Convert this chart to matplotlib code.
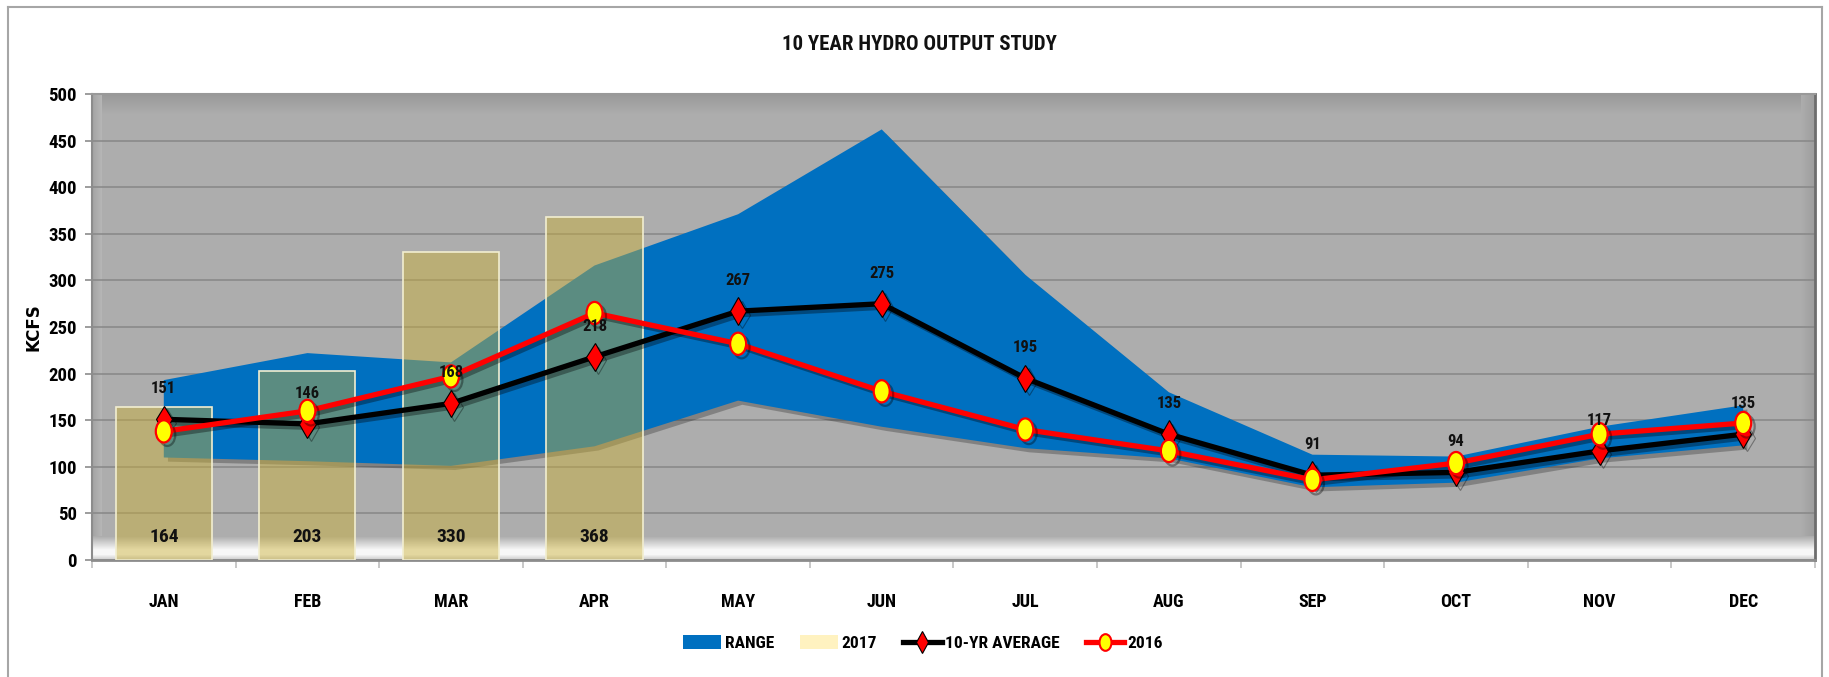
import numpy as np
import matplotlib
matplotlib.use("Agg")
import matplotlib.pyplot as plt
from matplotlib.patches import Patch
from matplotlib.lines import Line2D
from matplotlib.path import Path
from matplotlib.transforms import Affine2D
import matplotlib.patheffects as pe
from matplotlib import font_manager as fm

# ---------------- data ----------------
months = ['JAN', 'FEB', 'MAR', 'APR', 'MAY', 'JUN', 'JUL', 'AUG', 'SEP', 'OCT', 'NOV', 'DEC']
bars_2017 = [164, 203, 330, 368]
avg_10yr = [151, 146, 168, 218, 267, 275, 195, 135, 91, 94, 117, 135]
y2016 = [138, 160, 197, 265, 232, 181, 140, 117, 86, 104, 135, 147]
range_low = [110, 106, 101, 122, 171, 143, 120, 109, 78, 83, 109, 123]
range_high = [193, 222, 212, 316, 371, 462, 306, 180, 113, 111, 143, 166]
yticks = [0, 50, 100, 150, 200, 250, 300, 350, 400, 450, 500]

names = {f.name for f in fm.fontManager.ttflist}
cond = [n for n in ['Liberation Sans Narrow', 'DejaVu Sans Condensed', 'Roboto Condensed',
                    'Open Sans Condensed'] if n in names]
FONT = cond[:1] + ['DejaVu Sans']
plt.rcParams['font.family'] = FONT
plt.rcParams['font.stretch'] = 'condensed'

W, H = 1829, 677
fig = plt.figure(figsize=(W / 100, H / 100), dpi=100)
fig.patch.set_facecolor('white')

L, R, T, B = 92, 1815, 94, 560
ax = fig.add_axes([L / W, (H - B) / H, (R - L) / W, (B - T) / H])

# ---- beveled gray background ----
ph, pw = B - T, R - L
img = np.full((ph, pw, 3), 0.68)
for i in range(20):
    img[i, :, :] = 0.60 + 0.08 * (i / 20)
for j in range(10):
    img[:, j, :] = 0.64 + 0.08 * (j / 10)
for j in range(14):
    img[:, pw - 1 - j, :] = 0.62 + 0.06 * (j / 14)
floor = 24
for i in range(floor):
    t = i / floor
    v = 0.68 + (0.97 - 0.68) * min(1, t / 0.55)
    if t > 0.75:
        v = 0.97 - (t - 0.75) / 0.25 * 0.2
    img[ph - floor + i, :, :] = v
ax.imshow(img, extent=[0, 1, 0, 1], transform=ax.transAxes, aspect='auto', zorder=0,
          interpolation='bilinear')

x = np.arange(len(months))

# range area
area = ax.fill_between(x, range_low, range_high, color='#0070C0', linewidth=0, zorder=2)
area.set_path_effects([pe.SimplePatchShadow(offset=(3, -3), alpha=0.25, shadow_rgbFace='k'), pe.Normal()])

# 2017 bars
bx = x[:len(bars_2017)]
ax.bar(bx, bars_2017, width=0.67, color='#CBB035', alpha=0.45, edgecolor='none', zorder=3)
ax.bar(bx, bars_2017, width=0.67, facecolor='none', edgecolor='#F2EED0', linewidth=1.2, zorder=3.1)
for xi, v in zip(bx, bars_2017):
    ax.text(xi, 25, f'{v}', ha='center', va='center', fontsize=14, fontweight='bold',
            color='#111111', zorder=6)

ell = Path.unit_circle().transformed(Affine2D().scale(0.72, 1.0))

shadow = [pe.SimpleLineShadow(offset=(2.5, -2.5), alpha=0.35, shadow_color='k'), pe.Normal()]
l1, = ax.plot(x, avg_10yr, color='black', lw=3.8, marker='d', markersize=14,
              markerfacecolor='#FF0000', markeredgecolor='black', markeredgewidth=0.8, zorder=4)
l1.set_path_effects(shadow)
l2, = ax.plot(x, y2016, color='#FF0000', lw=3.8, marker=ell, markersize=16,
              markerfacecolor='#FFFF00', markeredgecolor='#FF0000', markeredgewidth=1.6, zorder=5)
l2.set_path_effects(shadow)

for xi, v in zip(x, avg_10yr):
    ax.annotate(f'{v}', (xi, v), xytext=(0, 22), textcoords='offset points', ha='center',
                va='center', fontsize=12, fontweight='bold', color='#111111', zorder=7)

ax.set_xlim(-0.5, len(months) - 0.5)
ax.set_ylim(0, 500)
ax.set_yticks(yticks)
ax.set_yticklabels([str(t) for t in yticks], fontsize=13.5, fontweight='bold')
ax.set_xticks(np.arange(-0.5, len(months), 1.0))
ax.set_xticklabels([])
ax.set_xticks(x, minor=True)
ax.set_xticklabels(months, minor=True, fontsize=13, fontweight='bold')
ax.tick_params(axis='x', which='major', length=6, color='#bfbfbf', width=1.2, direction='out')
ax.tick_params(axis='x', which='minor', length=0, pad=24)
ax.tick_params(axis='y', length=5, color='#8c8c8c', width=1.2, pad=6)
ax.yaxis.grid(True, color='#878787', linewidth=1.1, zorder=1)
ax.set_axisbelow(True)
ax.set_ylabel('KCFS', fontsize=12, fontweight='bold', family=['DejaVu Sans'], stretch='normal')
ax.yaxis.set_label_coords((43 - L) / (R - L), 0.5)

ax.spines['left'].set_color('#8c8c8c'); ax.spines['left'].set_linewidth(1.5)
ax.spines['bottom'].set_color('#8c8c8c'); ax.spines['bottom'].set_linewidth(2)
ax.spines['top'].set_color('#999999'); ax.spines['top'].set_linewidth(1.5)
ax.spines['right'].set_color('#6e6e6e'); ax.spines['right'].set_linewidth(2)

fig.text(919 / W, 1 - 45 / H, '10 YEAR HYDRO OUTPUT STUDY', ha='center', va='center',
         fontsize=15, fontweight='bold', color='#111111')

handles = [
    Patch(facecolor='#0070C0', edgecolor='none'),
    Patch(facecolor='#FFF2C0', edgecolor='none'),
    Line2D([], [], color='black', lw=3.8, marker='d', markersize=11, markerfacecolor='#FF0000',
           markeredgecolor='black', markeredgewidth=0.8),
    Line2D([], [], color='#FF0000', lw=3.8, marker=ell, markersize=12, markerfacecolor='#FFFF00',
           markeredgecolor='#FF0000', markeredgewidth=1.5),
]
fig.legend(handles, ['RANGE', '2017', '10-YR AVERAGE', '2016'], loc='center',
           bbox_to_anchor=(923 / W, 1 - 643 / H), ncol=4, frameon=False,
           prop={'family': FONT, 'weight': 'bold', 'size': 12.5, 'stretch': 'condensed'},
           handlelength=2.2, handleheight=0.9, handletextpad=0.2, columnspacing=1.5)

bc = '#a6a6a6'
fig.add_artist(Line2D([8 / W, 8 / W], [0, 1 - 7 / H], color=bc, lw=1.5, transform=fig.transFigure))
fig.add_artist(Line2D([8 / W, 1822 / W], [1 - 7 / H, 1 - 7 / H], color=bc, lw=1.5, transform=fig.transFigure))
fig.add_artist(Line2D([1822 / W, 1822 / W], [0, 1 - 7 / H], color=bc, lw=1.5, transform=fig.transFigure))

fig.savefig('out.png', dpi=100)
